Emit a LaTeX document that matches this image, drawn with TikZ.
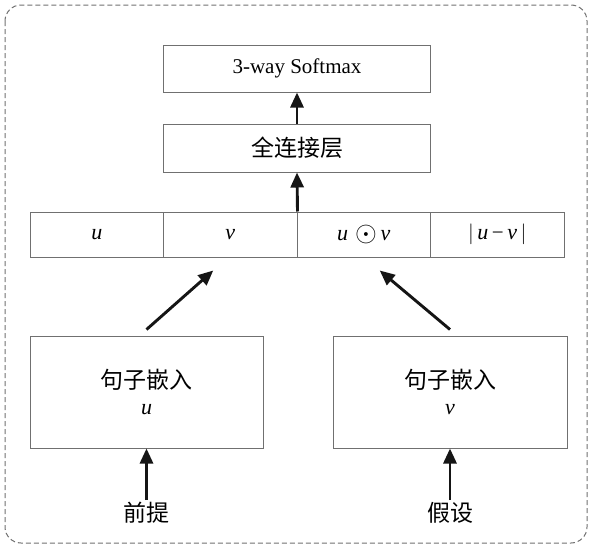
\documentclass[tikz,border=0pt]{standalone}
\usepackage{fontspec}
\usepackage{graphicx}
\setmainfont{Liberation Serif}
\newfontfamily\cjk{Noto Sans CJK SC}
\usetikzlibrary{arrows.meta}
\definecolor{boxgray}{HTML}{707070}
\definecolor{arrowblack}{HTML}{151515}
\tikzset{
  box/.style={draw=boxgray, line width=1pt, minimum height=#1, inner sep=0pt, align=center, font=\fontsize{21}{25}\selectfont},
  box/.default=47pt,
  arr/.style={draw=arrowblack, line width=2.9pt, -{Triangle[length=15pt,width=13pt]}, shorten >=0pt},
  lbl/.style={font=\cjk\fontsize{23}{27}\selectfont, inner sep=2pt},
}
\newcommand{\mv}[1]{{\fontsize{22}{26}\selectfont\textit{#1}}}
\begin{document}
\begin{tikzpicture}[x=1pt,y=-1pt]
\useasboundingbox (0,0) rectangle (590,546);
\draw[boxgray, line width=1pt, dash pattern=on 5pt off 3pt, rounded corners=16pt] (5,5) rectangle (587,543);

\node[box, minimum width=267pt] (sm) at (297,68.5) {3-way Softmax};
\node[box=48pt, minimum width=267pt, font=\cjk\fontsize{23}{26}\selectfont] (fc) at (297,148) {全连接层};

\node[box=45pt, minimum width=133.5pt] (c1) at (96.75,234.5) {\mv{u}};
\node[box=45pt, minimum width=133.5pt] (c2) at (230.25,234.5) {\mv{v}};
\node[box=45pt, minimum width=133.5pt] (c3) at (363.75,234.5) {\mv{u}\,\,\raisebox{-0.15ex}{\scalebox{1.35}{$\odot$}}\,\mv{v}};
\node[box=45pt, minimum width=133.5pt] (c4) at (497.25,234.5) {$|$\,\mv{u}\,−\,\mv{v}\,$|$};

\node[box=112pt, minimum width=233pt] (L) at (146.5,392) {{\cjk\fontsize{23}{27}\selectfont 句子嵌入}\\[1pt]\mv{u}};
\node[box=112pt, minimum width=234pt] (R) at (450,392) {{\cjk\fontsize{23}{27}\selectfont 句子嵌入}\\[1pt]\mv{v}};

\node[lbl] (prem) at (146.5,513) {前提};
\node[lbl] (hyp) at (450,513) {假设};

\coordinate (ls) at ([yshift=6pt]L.north);
\coordinate (rs) at ([yshift=6pt]R.north);
\coordinate (lt) at ([shift={(-17,13)}]c2.south);
\coordinate (rt) at ([shift={(16,13)}]c3.south);

\draw[arr] (fc.north) -- (sm.south);
\draw[arr] (c2.north east) -- (fc.south);
\draw[arr] (ls) -- (lt);
\draw[arr] (rs) -- (rt);
\draw[arr] (prem.north) -- (L.south);
\draw[arr] (hyp.north) -- (R.south);
\end{tikzpicture}
\end{document}
